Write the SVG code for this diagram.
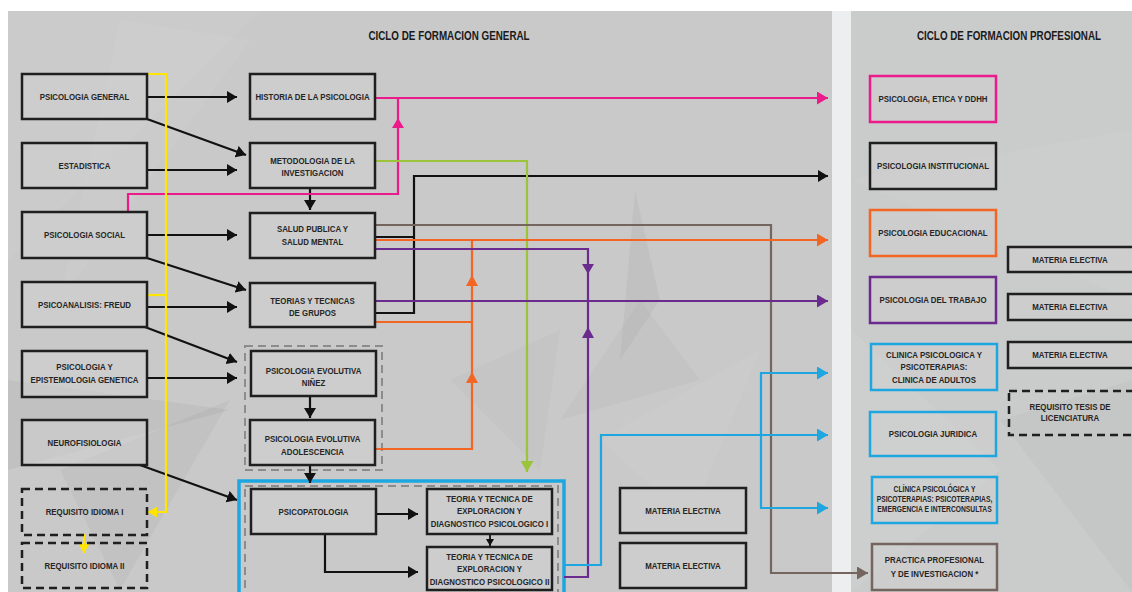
<svg xmlns="http://www.w3.org/2000/svg" width="1132" height="592" viewBox="0 0 1132 592">
<style>
.t{font-family:"Liberation Sans",Arial,sans-serif;font-weight:bold;font-size:9.6px;fill:#262626;text-anchor:middle}
.ts{font-size:8.2px}
.title{font-size:12px;fill:#1a1a1a}
.box{fill:#d0d0d0;fill-opacity:0.55;stroke:#1f1f1f;stroke-width:2.5}
.dash{fill:none;stroke:#1f1f1f;stroke-width:2.5;stroke-dasharray:8 5}
.gdash{fill:none;stroke:#8c8c8c;stroke-width:2;stroke-dasharray:8 5}
.c{fill:none;stroke-width:2.2;stroke-linejoin:miter}
.k{stroke:#111}
.pk{stroke:#ec1b8c}
.gr{stroke:#9cc43b}
.br{stroke:#74665f}
.or{stroke:#f26522}
.pu{stroke:#6a2a8e}
.bl{stroke:#1ea6e0}
.ye{stroke:#ffe500}
</style>
<defs>
<marker id="ak" viewBox="0 0 10 12" refX="10" refY="6" markerWidth="10" markerHeight="12" markerUnits="userSpaceOnUse" orient="auto"><path d="M0,0 L10,6 L0,12 z" fill="#111"/></marker>
<marker id="aks" viewBox="0 0 7 8" refX="7" refY="4" markerWidth="7" markerHeight="8" markerUnits="userSpaceOnUse" orient="auto"><path d="M0,0 L7,4 L0,8 z" fill="#111"/></marker>
<marker id="apk" viewBox="0 0 11 13" refX="11" refY="6.5" markerWidth="11" markerHeight="13" markerUnits="userSpaceOnUse" orient="auto"><path d="M0,0 L11,6.5 L0,13 z" fill="#ec1b8c"/></marker>
<marker id="agr" viewBox="0 0 11 13" refX="11" refY="6.5" markerWidth="11" markerHeight="13" markerUnits="userSpaceOnUse" orient="auto"><path d="M0,0 L11,6.5 L0,13 z" fill="#9cc43b"/></marker>
<marker id="abr" viewBox="0 0 11 13" refX="11" refY="6.5" markerWidth="11" markerHeight="13" markerUnits="userSpaceOnUse" orient="auto"><path d="M0,0 L11,6.5 L0,13 z" fill="#74665f"/></marker>
<marker id="aor" viewBox="0 0 11 13" refX="11" refY="6.5" markerWidth="11" markerHeight="13" markerUnits="userSpaceOnUse" orient="auto"><path d="M0,0 L11,6.5 L0,13 z" fill="#f26522"/></marker>
<marker id="apu" viewBox="0 0 11 13" refX="11" refY="6.5" markerWidth="11" markerHeight="13" markerUnits="userSpaceOnUse" orient="auto"><path d="M0,0 L11,6.5 L0,13 z" fill="#6a2a8e"/></marker>
<marker id="abl" viewBox="0 0 11 13" refX="11" refY="6.5" markerWidth="11" markerHeight="13" markerUnits="userSpaceOnUse" orient="auto"><path d="M0,0 L11,6.5 L0,13 z" fill="#1ea6e0"/></marker>
<marker id="aye" viewBox="0 0 9 11" refX="9" refY="5.5" markerWidth="9" markerHeight="11" markerUnits="userSpaceOnUse" orient="auto"><path d="M0,0 L9,5.5 L0,11 z" fill="#ffe500"/></marker>
</defs>

<g id="background">
<rect x="0" y="0" width="1132" height="592" fill="#ffffff"/>
<rect x="8" y="11" width="824" height="581" fill="#c9c9c9"/>
<rect x="851" y="11" width="281" height="581" fill="#cacbcb"/>
<rect x="832" y="11" width="19" height="581" fill="#eceeef"/>
<polygon points="8,11 260,11 8,260" fill="#ffffff" opacity="0.05"/>
<polygon points="120,20 250,40 60,300" fill="#ffffff" opacity="0.05"/>
<polygon points="8,380 230,410 8,470" fill="#000000" opacity="0.04"/>
<polygon points="60,470 230,400 120,590" fill="#000000" opacity="0.03"/>
<polygon points="640,300 700,380 560,420" fill="#000000" opacity="0.025"/>
<polygon points="635,190 660,300 620,360" fill="#000000" opacity="0.035"/>
<polygon points="600,440 760,350 690,520" fill="#ffffff" opacity="0.05"/>
<polygon points="450,380 560,330 540,470" fill="#000000" opacity="0.02"/>
<polygon points="851,180 1132,130 1132,300" fill="#ffffff" opacity="0.05"/>
<polygon points="851,330 1000,470 851,592" fill="#ffffff" opacity="0.07"/>
<polygon points="1000,420 1132,380 1132,592" fill="#000000" opacity="0.025"/>
</g>

<g id="titles">
<text class="t title" transform="translate(449 40) scale(.82 1)">CICLO DE FORMACION GENERAL</text>
<text class="t title" transform="translate(1009 40) scale(.82 1)">CICLO DE FORMACION PROFESIONAL</text>
</g>

<g id="groups">
<rect class="gdash" x="245" y="346" width="137" height="124"/>
<rect x="239" y="481" width="325" height="125" fill="none" stroke="#1ea6e0" stroke-width="3.5"/>
<rect class="gdash" x="245" y="486" width="313" height="115"/>
</g>

<g id="connectors">
<path class="c k" d="M147,97 H237" marker-end="url(#ak)"/>
<path class="c k" d="M147,119 L246,155" marker-end="url(#ak)"/>
<path class="c k" d="M147,170 H237" marker-end="url(#ak)"/>
<path class="c k" d="M147,235 H237" marker-end="url(#ak)"/>
<path class="c k" d="M147,258 L246,290" marker-end="url(#ak)"/>
<path class="c k" d="M147,307 H237" marker-end="url(#ak)"/>
<path class="c k" d="M145,327 L237,362" marker-end="url(#ak)"/>
<path class="c k" d="M147,378 H237" marker-end="url(#ak)"/>
<path class="c k" d="M140,465 L237,500" marker-end="url(#ak)"/>
<path class="c k" d="M310,188 V210" marker-end="url(#ak)"/>
<path class="c k" d="M310,396 V418" marker-end="url(#ak)"/>
<path class="c k" d="M310,465 V483" marker-end="url(#ak)"/>
<path class="c k" d="M376,514 H418" marker-end="url(#ak)"/>
<path class="c k" d="M325,534 V572 H418" marker-end="url(#ak)"/>
<path class="c k" style="stroke-width:1.8" d="M490,534 V546" marker-end="url(#aks)"/>
<path class="c k" d="M375,237 H414"/>
<path class="c k" d="M375,313 H414 V176 H828" marker-end="url(#ak)"/>

<path class="c pk" d="M375,98 H828" marker-end="url(#apk)"/>
<path class="c pk" d="M128,212 V194 H398 V99"/>
<polygon points="398,118 392,128 404,128" fill="#ec1b8c"/>

<path class="c gr" d="M375,161 H527 V472" marker-end="url(#agr)"/>

<path class="c br" d="M375,225 H771 V573 H868" marker-end="url(#abr)"/>

<path class="c or" d="M375,240 H828" marker-end="url(#aor)"/>
<path class="c or" d="M375,322 H472 V241"/>
<polygon points="472,275 466,286 478,286" fill="#f26522"/>
<path class="c or" d="M375,449 H472 V322"/>
<polygon points="472,372 466,383 478,383" fill="#f26522"/>

<path class="c pu" d="M375,249 H588 V301"/>
<polygon points="588,274 582,264 594,264" fill="#6a2a8e"/>
<path class="c pu" d="M375,301 H828" marker-end="url(#apu)"/>
<path class="c pu" d="M564,577 H588 V301"/>
<polygon points="588,327 582,338 594,338" fill="#6a2a8e"/>

<path class="c bl" d="M564,565 H601 V435 H828" marker-end="url(#abl)"/>
<path class="c bl" d="M761,436 V373 H828" marker-end="url(#abl)"/>
<path class="c bl" d="M761,434 V508 H828" marker-end="url(#abl)"/>

<path class="c ye" d="M147,74 H166 V512 H148" marker-end="url(#aye)"/>
<path class="c ye" d="M147,295 H166"/>
<path class="c ye" d="M84,534 V553" marker-end="url(#aye)"/>
</g>

<g id="psicologia-general"><rect class="box" x="22" y="74" width="125" height="45"/><text class="t" transform="translate(84.5 100.4) scale(.82 1)">PSICOLOGIA GENERAL</text></g>
<g id="estadistica"><rect class="box" x="22" y="143" width="125" height="45"/><text class="t" transform="translate(84.5 168.9) scale(.82 1)">ESTADISTICA</text></g>
<g id="psicologia-social"><rect class="box" x="22" y="212" width="125" height="46"/><text class="t" transform="translate(84.5 238.4) scale(.82 1)">PSICOLOGIA SOCIAL</text></g>
<g id="psicoanalisis"><rect class="box" x="22" y="282" width="125" height="45"/><text class="t" transform="translate(84.5 307.9) scale(.82 1)">PSICOANALISIS: FREUD</text></g>
<g id="epistemologia"><rect class="box" x="22" y="351" width="125" height="46"/><text class="t" transform="translate(84.5 369.5) scale(.82 1)">PSICOLOGIA Y</text><text class="t" transform="translate(84.5 382.5) scale(.82 1)">EPISTEMOLOGIA GENETICA</text></g>
<g id="neurofisiologia"><rect class="box" x="22" y="420" width="125" height="45"/><text class="t" transform="translate(84.5 445.9) scale(.82 1)">NEUROFISIOLOGIA</text></g>
<g id="idioma-1"><rect class="dash" x="22" y="489" width="125" height="46"/><text class="t" transform="translate(84.5 515.4) scale(.82 1)">REQUISITO IDIOMA I</text></g>
<g id="idioma-2"><rect class="dash" x="22" y="543" width="125" height="45"/><text class="t" transform="translate(84.5 568.9) scale(.82 1)">REQUISITO IDIOMA II</text></g>

<g id="historia"><rect class="box" x="250" y="74" width="125" height="45"/><text class="t" transform="translate(312.5 100.4) scale(.82 1)">HISTORIA DE LA PSICOLOGIA</text></g>
<g id="metodologia"><rect class="box" x="250" y="143" width="125" height="45"/><text class="t" transform="translate(312.5 163.5) scale(.82 1)">METODOLOGIA DE LA</text><text class="t" transform="translate(312.5 175.5) scale(.82 1)">INVESTIGACION</text></g>
<g id="salud"><rect class="box" x="250" y="213" width="125" height="45"/><text class="t" transform="translate(312.5 231.5) scale(.82 1)">SALUD PUBLICA Y</text><text class="t" transform="translate(312.5 244.5) scale(.82 1)">SALUD MENTAL</text></g>
<g id="teorias"><rect class="box" x="250" y="283" width="125" height="44"/><text class="t" transform="translate(312.5 303.5) scale(.82 1)">TEORIAS Y TECNICAS</text><text class="t" transform="translate(312.5 315.5) scale(.82 1)">DE GRUPOS</text></g>
<g id="ninez"><rect class="box" x="251" y="351" width="125" height="45"/><text class="t" transform="translate(313.5 373.5) scale(.82 1)">PSICOLOGIA EVOLUTIVA</text><text class="t" transform="translate(313.5 385.5) scale(.82 1)">NIÑEZ</text></g>
<g id="adolescencia"><rect class="box" x="250" y="420" width="125" height="45"/><text class="t" transform="translate(312.5 441.5) scale(.82 1)">PSICOLOGIA EVOLUTIVA</text><text class="t" transform="translate(312.5 454.5) scale(.82 1)">ADOLESCENCIA</text></g>
<g id="psicopatologia"><rect class="box" x="251" y="489" width="125" height="45"/><text class="t" transform="translate(313.5 515.4) scale(.82 1)">PSICOPATOLOGIA</text></g>
<g id="ttedp-1"><rect class="box" x="427" y="489" width="125" height="45"/><text class="t" transform="translate(489.5 501.5) scale(.82 1)">TEORIA Y TECNICA DE</text><text class="t" transform="translate(489.5 514) scale(.82 1)">EXPLORACION Y</text><text class="t" transform="translate(489.5 526.5) scale(.82 1)">DIAGNOSTICO PSICOLOGICO I</text></g>
<g id="ttedp-2"><rect class="box" x="427" y="547" width="125" height="43"/><text class="t" transform="translate(489.5 559.5) scale(.82 1)">TEORIA Y TECNICA DE</text><text class="t" transform="translate(489.5 571.5) scale(.82 1)">EXPLORACION Y</text><text class="t" transform="translate(489.5 584.5) scale(.82 1)">DIAGNOSTICO PSICOLOGICO II</text></g>
<g id="electiva-a"><rect class="box" x="620" y="488" width="126" height="45"/><text class="t" transform="translate(683 514.4) scale(.82 1)">MATERIA ELECTIVA</text></g>
<g id="electiva-b"><rect class="box" x="620" y="543" width="126" height="45"/><text class="t" transform="translate(683 569.4) scale(.82 1)">MATERIA ELECTIVA</text></g>

<g id="etica"><rect class="box" style="stroke:#ec1b8c" x="870" y="76" width="126" height="46"/><text class="t" transform="translate(933 102.4) scale(.82 1)">PSICOLOGIA, ETICA Y DDHH</text></g>
<g id="institucional"><rect class="box" x="870" y="143" width="126" height="46"/><text class="t" transform="translate(933 169.4) scale(.82 1)">PSICOLOGIA INSTITUCIONAL</text></g>
<g id="educacional"><rect class="box" style="stroke:#f26522" x="870" y="210" width="126" height="46"/><text class="t" transform="translate(933 236.4) scale(.82 1)">PSICOLOGIA EDUCACIONAL</text></g>
<g id="trabajo"><rect class="box" style="stroke:#6a2a8e" x="870" y="277" width="126" height="46"/><text class="t" transform="translate(933 303.4) scale(.82 1)">PSICOLOGIA DEL TRABAJO</text></g>
<g id="clinica-adultos"><rect class="box" style="stroke:#1ea6e0" x="871" y="344" width="126" height="46"/><text class="t" transform="translate(934 357.5) scale(.82 1)">CLINICA PSICOLOGICA Y</text><text class="t" transform="translate(934 369.5) scale(.82 1)">PSICOTERAPIAS:</text><text class="t" transform="translate(934 382.5) scale(.82 1)">CLINICA DE ADULTOS</text></g>
<g id="juridica"><rect class="box" style="stroke:#1ea6e0" x="870" y="412" width="126" height="44"/><text class="t" transform="translate(933 437.4) scale(.82 1)">PSICOLOGIA JURIDICA</text></g>
<g id="clinica-psicoterapias"><rect class="box" style="stroke:#1ea6e0" x="872" y="477" width="125" height="46"/><text class="t ts" transform="translate(934.5 491.9) scale(.82 1)">CLÍNICA PSICOLÓGICA Y</text><text class="t ts" transform="translate(934.5 501.9) scale(.82 1)">PSICOTERAPIAS: PSICOTERAPIAS,</text><text class="t ts" transform="translate(934.5 511.9) scale(.82 1)">EMERGENCIA E INTERCONSULTAS</text></g>
<g id="practica"><rect class="box" style="stroke:#74665f" x="872" y="544" width="125" height="46"/><text class="t" transform="translate(934.5 562.5) scale(.82 1)">PRACTICA PROFESIONAL</text><text class="t" transform="translate(934.5 576.5) scale(.82 1)">Y DE INVESTIGACION *</text></g>

<g id="electiva-1"><rect class="box" x="1008" y="247" width="130" height="25"/><text class="t" transform="translate(1070 262.9) scale(.82 1)">MATERIA ELECTIVA</text></g>
<g id="electiva-2"><rect class="box" x="1008" y="294" width="130" height="26"/><text class="t" transform="translate(1070 310.4) scale(.82 1)">MATERIA ELECTIVA</text></g>
<g id="electiva-3"><rect class="box" x="1008" y="342" width="130" height="26"/><text class="t" transform="translate(1070 358.4) scale(.82 1)">MATERIA ELECTIVA</text></g>
<g id="tesis"><rect class="dash" x="1009" y="391" width="130" height="44"/><text class="t" transform="translate(1070 409.5) scale(.82 1)">REQUISITO TESIS DE</text><text class="t" transform="translate(1070 420.5) scale(.82 1)">LICENCIATURA</text></g>
</svg>
